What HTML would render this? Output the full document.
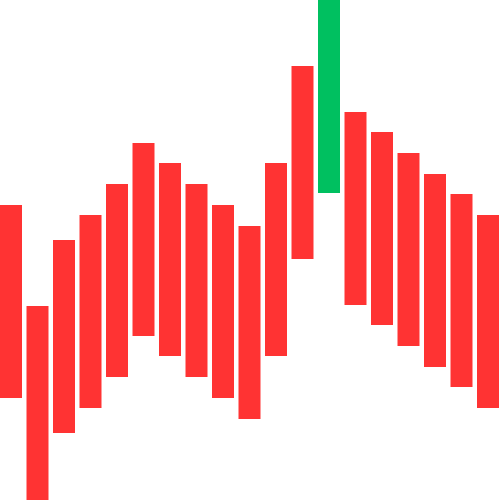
<!DOCTYPE html>
<html>
<head>
<meta charset="utf-8">
<style>
  html, body { margin: 0; padding: 0; background: #fff; }
  svg { display: block; }
</style>
</head>
<body>
<svg id="chart" width="500" height="500" viewBox="0 0 500 500"></svg>
<script>
const categories = ["b0","b1","b2","b3","b4","b5","b6","b7","b8","b9","b10","b11","b12","b13","b14","b15","b16","b17","b18"];
const highValues = [295,194,260,285,316,357,337,316,295,274,337,434,500,388,368,347,326,306,285];
const lowValues  = [102,0,67,92,123,164,144,123,102,81,144,241,307,195,175,154,133,113,92];
const upFlags    = [false,false,false,false,false,false,false,false,false,false,false,false,true,false,false,false,false,false,false];

const W = 500, H = 500;
const yMin = 0, yMax = 500;
function yScale(v) { return H - (v - yMin) / (yMax - yMin) * H; }
const step = 26.5;
const barW = 22;
function xScale(i) { return i * step; }

const svg = document.getElementById('chart');
const NS = 'http://www.w3.org/2000/svg';
categories.forEach((c, i) => {
  const r = document.createElementNS(NS, 'rect');
  const top = yScale(highValues[i]);
  const bot = yScale(lowValues[i]);
  r.setAttribute('x', xScale(i));
  r.setAttribute('y', top);
  r.setAttribute('width', barW);
  r.setAttribute('height', bot - top);
  r.setAttribute('fill', upFlags[i] ? '#00c060' : '#ff3333');
  
  
  svg.appendChild(r);
});
</script>
</body>
</html>
